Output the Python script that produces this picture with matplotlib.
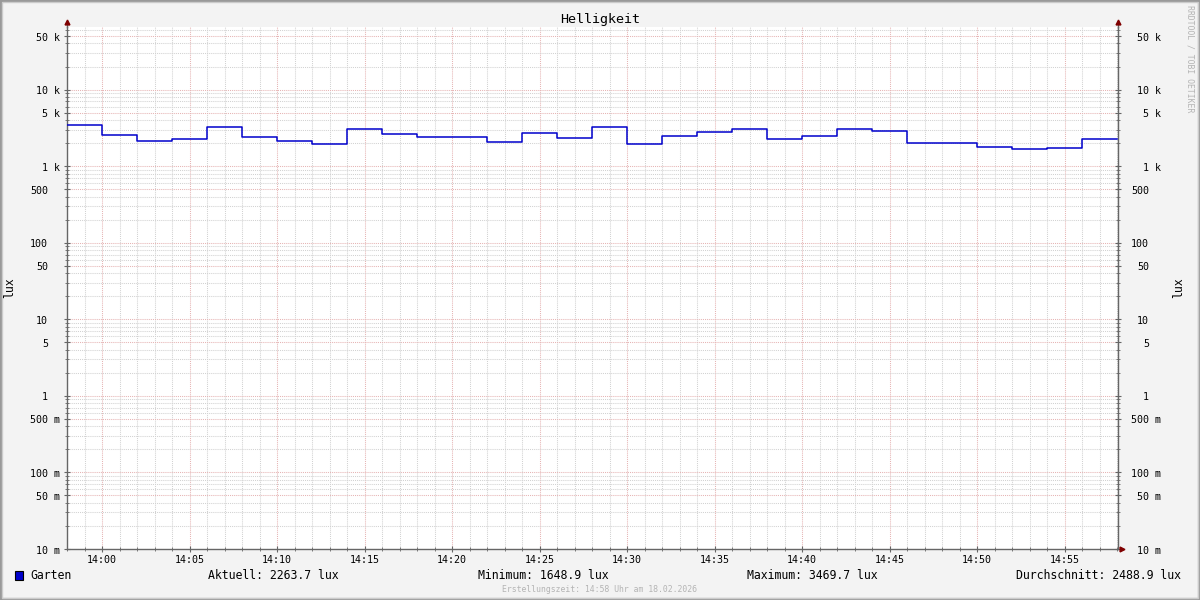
import matplotlib
matplotlib.use("Agg")
import matplotlib.pyplot as plt
import matplotlib.dates as mdates
import matplotlib.ticker as mticker
import matplotlib.transforms as mtransforms
from matplotlib.patches import Rectangle
import pandas as pd

# step start times (2-minute consolidation) and brightness in lux
step_starts = pd.date_range("2026-02-18 13:58", periods=30, freq="2min")
lux = [3469.7, 2530, 2160, 2290, 3280, 2430, 2160, 1970, 3090, 2660,
       2430, 2430, 2095, 2740, 2360, 3280, 1930, 2505, 2825, 3050,
       2290, 2505, 3050, 2910, 2030, 1990, 1800, 1648.9, 1750, 2263.7]

y_ticks = [0.01, 0.05, 0.1, 0.5, 1, 5, 10, 50, 100, 500, 1000, 5000, 10000, 50000]
y_labels = ["10 m", "50 m", "100 m", "500 m", "1", "5", "10", "50", "100", "500",
            "1 k", "5 k", "10 k", "50 k"]

legend_items = ["Aktuell: 2263.7 lux", "Minimum: 1648.9 lux",
                "Maximum: 3469.7 lux", "Durchschnitt: 2488.9 lux"]
legend_x = [208, 478, 747, 1016]

MONO = "DejaVu Sans Mono"
W, H = 1200, 600

fig = plt.figure(figsize=(12, 6), dpi=100, facecolor="#f3f3f3")

# 3d frame around the image
fig.patches.append(Rectangle((0, 0), 1, 1, transform=fig.transFigure, fill=False,
                             edgecolor="#999999", linewidth=3, zorder=-1))
fig.patches.append(Rectangle((0.0015, 0.003), 0.997, 0.994, transform=fig.transFigure,
                             fill=False, edgecolor="#cbcbcb", linewidth=1, zorder=-1))


def px(x, y):
    return x / W, 1 - y / H


left, right, top, bottom = 67, 1118, 27, 549
ax = fig.add_axes([left / W, 1 - bottom / H, (right - left) / W, (bottom - top) / H])
ax.set_facecolor("white")

xs = list(step_starts) + [step_starts[-1] + pd.Timedelta(minutes=2)]
ys = lux + [lux[-1]]
ax.plot(xs, ys, drawstyle="steps-post", color="#0000cc", linewidth=1.1, zorder=3)

ax.set_yscale("log")
ax.set_ylim(0.01, 65600)
ax.set_xlim(pd.Timestamp("2026-02-18 13:58:00"), pd.Timestamp("2026-02-18 14:58:03"))

ax.yaxis.set_major_locator(mticker.FixedLocator(y_ticks))
ax.yaxis.set_major_formatter(mticker.NullFormatter())
ax.yaxis.set_minor_locator(mticker.LogLocator(base=10, subs=(2, 3, 4, 6, 7, 8, 9), numticks=20))
ax.yaxis.set_minor_formatter(mticker.NullFormatter())

ax.xaxis.set_major_locator(mdates.MinuteLocator(byminute=range(0, 60, 5)))
ax.xaxis.set_major_formatter(mdates.DateFormatter("%H:%M"))
ax.xaxis.set_minor_locator(mdates.MinuteLocator())

dot = (0, (1, 1))
ax.grid(which="major", color="#e6b4b4", linestyle=dot, linewidth=0.75)
ax.grid(which="minor", color="#d2d2d2", linestyle=dot, linewidth=0.75)
ax.set_axisbelow(True)

ax.spines["top"].set_visible(False)
for s in ["left", "right", "bottom"]:
    ax.spines[s].set_color("#666666")
    ax.spines[s].set_linewidth(1)

ax.tick_params(axis="y", which="both", left=True, right=True, colors="#666666",
               direction="inout")
ax.tick_params(axis="y", which="major", length=5)
ax.tick_params(axis="y", which="minor", length=3)
ax.tick_params(axis="x", which="both", labelsize=7.2, colors="#666666",
               labelcolor="black", direction="inout")
ax.tick_params(axis="x", which="major", length=5, pad=2)
ax.tick_params(axis="x", which="minor", length=3)
for lab in ax.get_xticklabels():
    lab.set_family(MONO)

# y labels: right-aligned, numbers without unit keep room for the unit letter
ytrans = ax.get_yaxis_transform()
for val, txt in zip(y_ticks, y_labels):
    shift = 0 if txt.endswith((" k", " m")) else -12
    for base_px in (-7, 43):
        off = mtransforms.ScaledTranslation((base_px + shift) / 100, -1.5 / 100,
                                            fig.dpi_scale_trans)
        ax.text(0 if base_px < 0 else 1, val, txt, transform=ytrans + off,
                ha="right", va="center", fontsize=7.2, family=MONO, clip_on=False)

# axis arrows
arrow = "#7f0000"
up = 1 + 5 / (bottom - top)
ax.plot([0], [up], marker="^", markersize=3.5, color=arrow, transform=ax.transAxes,
        clip_on=False, zorder=5)
ax.plot([1], [up], marker="^", markersize=3.5, color=arrow, transform=ax.transAxes,
        clip_on=False, zorder=5)
ax.plot([0, 0], [1, up], color="#666666", linewidth=1, transform=ax.transAxes, clip_on=False)
ax.plot([1, 1], [1, up], color="#666666", linewidth=1, transform=ax.transAxes, clip_on=False)
ax.plot([1.0035], [0], marker=">", markersize=3.5, color=arrow, transform=ax.transAxes,
        clip_on=False, zorder=5)

# texts
fig.text(*px(600, 19), "Helligkeit", ha="center", va="center", fontsize=9.6, family=MONO)
fig.text(*px(10, 288), "lux", ha="center", va="center", rotation=90, fontsize=8.3, family=MONO)
fig.text(*px(1179, 288), "lux", ha="center", va="center", rotation=90, fontsize=8.3, family=MONO)
fig.text(*px(1190, 5), "RRDTOOL / TOBI OETIKER", ha="center", va="top", rotation=270,
         fontsize=5.9, family=MONO, color="#b4b4b4")

fig.patches.append(Rectangle(px(15, 580), 8 / W, 9 / H, transform=fig.transFigure,
                             facecolor="#0000cc", edgecolor="black", linewidth=0.8))
fig.text(*px(30, 575.5), "Garten", ha="left", va="center", fontsize=8.3, family=MONO)
for xpos, txt in zip(legend_x, legend_items):
    fig.text(*px(xpos, 575.5), txt, ha="left", va="center", fontsize=8.3, family=MONO)
fig.text(*px(600, 589), "Erstellungszeit: 14:58 Uhr am 18.02.2026", ha="center",
         va="center", fontsize=5.9, family=MONO, color="#b4b4b4")

fig.savefig("out.png", dpi=100, facecolor=fig.get_facecolor())
